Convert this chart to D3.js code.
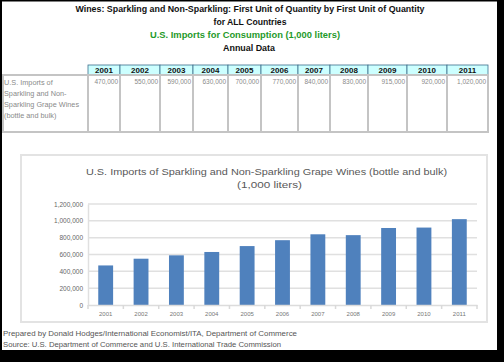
<!DOCTYPE html>
<html><head><meta charset="utf-8">
<script src="https://cdn.jsdelivr.net/npm/d3@7"></script>
<style>body{margin:0;background:#fff;}svg{display:block;}</style>
</head><body>
<script>
const years = ["2001","2002","2003","2004","2005","2006","2007","2008","2009","2010","2011"];
const imports = [470000, 550000, 590000, 630000, 700000, 770000, 840000, 830000, 915000, 920000, 1020000];
const yTicks = [0, 200000, 400000, 600000, 800000, 1000000, 1200000];
const headerLines = ["Wines: Sparkling and Non-Sparkling: First Unit of Quantity by First Unit of Quantity","for ALL Countries","U.S. Imports for Consumption (1,000 liters)","Annual Data"];
const rowLabel = ["U.S. Imports of","Sparkling and Non-","Sparkling Grape Wines","(bottle and bulk)"];
const chartTitle = ["U.S.  Imports of Sparkling and Non-Sparkling Grape Wines (bottle and bulk)","(1,000 liters)"];
const footer = ["Prepared by Donald Hodges/International Economist/ITA, Department of Commerce","Source: U.S. Department of Commerce and U.S. International Trade Commission"];

const W = 504, H = 362;
const svg = d3.select("body").append("svg").attr("width", W).attr("height", H)
  .style("font-family", "'Liberation Sans', Arial, sans-serif");

svg.append("rect").attr("width", W).attr("height", H).attr("fill", "#fff");

// header
const hY = [9, 22, 35, 48];
const hW = [349, 73, 190, 52];
const hX = [250, 250, 245, 249];
headerLines.forEach((t, i) => {
  svg.append("text").attr("x", hX[i]).attr("y", hY[i]).attr("dy", "0.35em")
    .attr("text-anchor", "middle").attr("font-size", 9.5).attr("font-weight", "bold")
    .attr("fill", i === 2 ? "#1f9a2a" : "#111")
    .attr("textLength", hW[i]).attr("lengthAdjust", "spacingAndGlyphs").text(t);
});

// table
const colEdges = [88, 120, 160, 193, 228, 261, 298, 330, 368, 407, 447, 488];
const tbl = svg.append("g");
years.forEach((y, i) => {
  const x0 = colEdges[i], x1 = colEdges[i + 1];
  tbl.append("rect").attr("x", x0).attr("y", 65).attr("width", x1 - x0).attr("height", 10)
    .attr("fill", "#ccffff").attr("stroke", "#3c6e8c").attr("stroke-width", 0.8);
  tbl.append("text").attr("x", (x0 + x1) / 2).attr("y", 70.5).attr("dy", "0.35em")
    .attr("text-anchor", "middle").attr("font-size", 8).attr("font-weight", "bold").attr("fill", "#111").text(y);
  tbl.append("rect").attr("x", x0).attr("y", 75).attr("width", x1 - x0).attr("height", 57)
    .attr("fill", "#fff").attr("stroke", "#c4c4c4").attr("stroke-width", 2);
  tbl.append("text").attr("x", x1 - 2).attr("y", 82).attr("dy", "0.35em")
    .attr("text-anchor", "end").attr("font-size", 6.5).attr("fill", "#8a8a8a")
    .text(d3.format(",")(imports[i]));
});
tbl.append("rect").attr("x", 3).attr("y", 75).attr("width", 85).attr("height", 57)
  .attr("fill", "#fff").attr("stroke", "#c4c4c4").attr("stroke-width", 2);
rowLabel.forEach((t, i) => {
  tbl.append("text").attr("x", 4).attr("y", 82 + i * 11).attr("dy", "0.35em")
    .attr("font-size", 7.3).attr("fill", "#8a8a8a").text(t);
});

// chart box
svg.append("rect").attr("x", 21).attr("y", 155).attr("width", 466).attr("height", 167)
  .attr("fill", "#fff").attr("stroke", "#e3e3e3").attr("stroke-width", 2);

chartTitle.forEach((t, i) => {
  svg.append("text").attr("x", i === 0 ? 266.5 : 269.5).attr("y", i === 0 ? 171.5 : 185).attr("dy", "0.35em")
    .attr("text-anchor", "middle").attr("font-size", 9.5).attr("fill", "#595959")
    .attr("textLength", i === 0 ? 361 : 65).attr("lengthAdjust", "spacingAndGlyphs").text(t);
});

const x = d3.scaleBand().domain(years).range([88, 477]).paddingInner(0.58).paddingOuter(0.29);
const y = d3.scaleLinear().domain([0, 1200000]).range([305, 204]);

// gridlines
svg.append("g").selectAll("line").data(yTicks.slice(1)).join("line")
  .attr("x1", 88).attr("x2", 477).attr("y1", d => y(d)).attr("y2", d => y(d))
  .attr("stroke", "#e0e0e0").attr("stroke-width", 1.5);

// y axis
const yAxis = svg.append("g").attr("transform", "translate(88,0)")
  .call(d3.axisLeft(y).tickValues(yTicks).tickFormat(d3.format(",")).tickSize(0).tickPadding(5));
yAxis.select(".domain").attr("stroke", "#e0e0e0").attr("stroke-width", 1.5);
yAxis.selectAll("text").attr("font-size", 6.5).attr("fill", "#666").attr("font-family", "'Liberation Sans', Arial, sans-serif");

// bars
svg.append("g").selectAll("rect").data(years).join("rect")
  .attr("x", d => x(d)).attr("width", x.bandwidth())
  .attr("y", (d, i) => y(imports[i])).attr("height", (d, i) => y(0) - y(imports[i]))
  .attr("fill", "#4f81bd");

// x axis
const xAxis = svg.append("g").attr("transform", "translate(0,305)")
  .call(d3.axisBottom(x).tickSize(0).tickPadding(7));
xAxis.select(".domain").attr("stroke", "#dcdcdc").attr("stroke-width", 1.5);
xAxis.selectAll("text").attr("font-size", 6).attr("fill", "#777").attr("font-family", "'Liberation Sans', Arial, sans-serif");
// category separators
const seps = years.map((d, i) => x.range()[0] + i * x.step()).concat([x.range()[1]]);
svg.append("g").selectAll("line").data(seps).join("line")
  .attr("x1", d => d).attr("x2", d => d).attr("y1", 305).attr("y2", 309)
  .attr("stroke", "#d9d9d9").attr("stroke-width", 1.5);

// footer
footer.forEach((t, i) => {
  svg.append("text").attr("x", 3).attr("y", i === 0 ? 334 : 345).attr("dy", "0.35em")
    .attr("font-size", 7).attr("fill", "#555")
    .attr("textLength", i === 0 ? 294 : 278).attr("lengthAdjust", "spacingAndGlyphs").text(t);
});

// black frame
svg.append("rect").attr("x", 0).attr("y", 0).attr("width", 2).attr("height", H).attr("fill", "#000");
svg.append("rect").attr("x", 0).attr("y", 0).attr("width", W).attr("height", 1.5).attr("fill", "#000");
svg.append("rect").attr("x", 497).attr("y", 0).attr("width", 7).attr("height", H).attr("fill", "#000");
svg.append("rect").attr("x", 0).attr("y", 350).attr("width", W).attr("height", 12).attr("fill", "#000");
</script>
</body></html>
